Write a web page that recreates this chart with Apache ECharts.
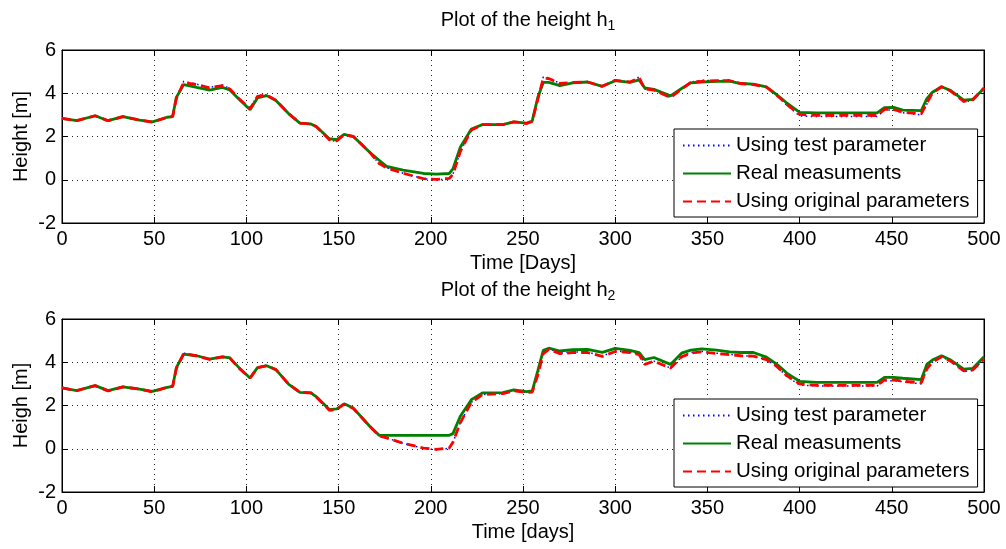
<!DOCTYPE html>
<html>
<head>
<meta charset="utf-8">
<script src="https://cdn.jsdelivr.net/npm/echarts@6/dist/echarts.min.js"></script>
<style>
html, body { margin: 0; padding: 0; background: #fff; }
#chart { width: 1006px; height: 549px; }
</style>
</head>
<body>
<div id="chart"></div>
<script>
var myChart = echarts.init(document.getElementById('chart'));

// 数据
var days = [0, 8, 18, 25, 33, 42, 49, 57, 60, 62,
	66, 73, 80, 87, 91, 96, 102, 106, 111, 116,
	123, 129, 135, 138, 145, 149, 153, 158, 167, 172,
	176, 185, 196, 203, 210, 212, 216, 222, 228, 239,
	245, 252, 255, 258, 261, 264, 270, 277, 285, 293,
	300, 308, 313, 316, 321, 330, 336, 341, 347, 355,
	362, 368, 375, 382, 387, 391, 393, 400, 409, 418,
	427, 442, 446, 451, 456, 466, 469, 472, 477, 482,
	489, 494, 500];

var testTop = [2.84, 2.73, 2.96, 2.75, 2.92, 2.76, 2.66, 2.89, 2.92, 3.78,
	4.55, 4.42, 4.27, 4.38, 4.22, 3.75, 3.30, 3.90, 3.92, 3.68,
	3.05, 2.60, 2.55, 2.45, 1.83, 1.78, 2.08, 2.00, 1.24, 0.75,
	0.55, 0.30, 0.05, 0.00, 0.03, 0.25, 1.30, 2.30, 2.55, 2.55,
	2.68, 2.60, 2.70, 3.70, 4.75, 4.72, 4.45, 4.50, 4.52, 4.32,
	4.60, 4.52, 4.75, 4.20, 4.15, 3.80, 4.20, 4.52, 4.60, 4.58,
	4.62, 4.45, 4.40, 4.28, 3.95, 3.62, 3.45, 2.95, 2.92, 2.92,
	2.92, 2.92, 3.22, 3.22, 3.10, 3.00, 3.50, 4.00, 4.30, 4.10,
	3.60, 3.68, 4.25];
var realTop = [2.84, 2.73, 2.96, 2.73, 2.92, 2.76, 2.68, 2.89, 2.92, 3.81,
	4.40, 4.27, 4.15, 4.27, 4.15, 3.72, 3.24, 3.78, 3.89, 3.66,
	3.05, 2.62, 2.58, 2.45, 1.90, 1.85, 2.10, 2.00, 1.26, 0.90,
	0.62, 0.45, 0.29, 0.26, 0.29, 0.50, 1.50, 2.35, 2.55, 2.55,
	2.68, 2.62, 2.72, 3.80, 4.50, 4.50, 4.35, 4.48, 4.52, 4.32,
	4.58, 4.50, 4.62, 4.25, 4.18, 3.88, 4.22, 4.48, 4.52, 4.55,
	4.56, 4.45, 4.42, 4.30, 3.97, 3.70, 3.55, 3.12, 3.09, 3.09,
	3.09, 3.09, 3.33, 3.35, 3.22, 3.20, 3.75, 4.05, 4.30, 4.12,
	3.68, 3.72, 4.22];
var origTop = [2.84, 2.73, 2.96, 2.73, 2.92, 2.76, 2.66, 2.89, 2.92, 3.75,
	4.50, 4.40, 4.25, 4.35, 4.20, 3.75, 3.28, 3.85, 3.92, 3.68,
	3.05, 2.62, 2.58, 2.45, 1.85, 1.80, 2.08, 2.00, 1.26, 0.75,
	0.55, 0.30, 0.05, 0.02, 0.06, 0.25, 1.30, 2.30, 2.55, 2.55,
	2.68, 2.60, 2.70, 3.70, 4.70, 4.68, 4.45, 4.50, 4.52, 4.32,
	4.60, 4.52, 4.72, 4.20, 4.15, 3.80, 4.20, 4.50, 4.55, 4.58,
	4.58, 4.45, 4.40, 4.28, 3.95, 3.65, 3.48, 3.02, 2.98, 2.97,
	2.98, 2.97, 3.25, 3.25, 3.12, 3.05, 3.55, 4.00, 4.30, 4.10,
	3.62, 3.70, 4.25];

var testBot = [2.81, 2.69, 2.92, 2.67, 2.86, 2.76, 2.63, 2.84, 2.88, 3.72,
	4.42, 4.32, 4.13, 4.27, 4.22, 3.72, 3.27, 3.75, 3.84, 3.66,
	2.98, 2.61, 2.56, 2.38, 1.78, 1.82, 2.06, 1.86, 1.03, 0.60,
	0.50, 0.25, 0.02, -0.05, 0.02, 0.28, 1.20, 2.15, 2.50, 2.55,
	2.68, 2.60, 2.62, 3.40, 4.45, 4.62, 4.42, 4.47, 4.47, 4.29,
	4.52, 4.47, 4.37, 3.92, 4.05, 3.73, 4.25, 4.45, 4.50, 4.42,
	4.37, 4.30, 4.28, 4.12, 3.85, 3.52, 3.35, 2.95, 2.90, 2.90,
	2.90, 2.90, 3.15, 3.15, 3.10, 3.00, 3.65, 4.00, 4.25, 4.05,
	3.58, 3.62, 4.15];
var realBot = [2.81, 2.69, 2.92, 2.69, 2.86, 2.76, 2.65, 2.84, 2.88, 3.75,
	4.38, 4.30, 4.15, 4.25, 4.20, 3.75, 3.27, 3.75, 3.84, 3.66,
	2.98, 2.61, 2.58, 2.40, 1.81, 1.84, 2.08, 1.88, 1.03, 0.62,
	0.62, 0.62, 0.62, 0.62, 0.62, 0.70, 1.50, 2.27, 2.58, 2.60,
	2.72, 2.64, 2.68, 3.60, 4.55, 4.65, 4.52, 4.58, 4.60, 4.46,
	4.64, 4.55, 4.45, 4.12, 4.22, 3.90, 4.42, 4.56, 4.62, 4.56,
	4.48, 4.45, 4.45, 4.24, 3.95, 3.66, 3.50, 3.12, 3.07, 3.07,
	3.07, 3.07, 3.30, 3.30, 3.26, 3.20, 3.90, 4.10, 4.30, 4.10,
	3.68, 3.72, 4.25];
var origBot = [2.81, 2.69, 2.92, 2.67, 2.86, 2.76, 2.63, 2.84, 2.88, 3.70,
	4.40, 4.30, 4.13, 4.25, 4.20, 3.72, 3.27, 3.75, 3.84, 3.66,
	2.98, 2.61, 2.58, 2.38, 1.78, 1.82, 2.06, 1.86, 1.03, 0.60,
	0.50, 0.26, 0.03, -0.03, 0.03, 0.30, 1.20, 2.15, 2.50, 2.55,
	2.68, 2.60, 2.62, 3.40, 4.40, 4.60, 4.40, 4.45, 4.45, 4.27,
	4.50, 4.45, 4.35, 3.90, 4.05, 3.73, 4.25, 4.42, 4.48, 4.40,
	4.35, 4.30, 4.28, 4.12, 3.85, 3.55, 3.38, 3.00, 2.93, 2.93,
	2.93, 2.93, 3.18, 3.18, 3.12, 3.05, 3.70, 4.00, 4.25, 4.05,
	3.60, 3.65, 4.15];

var names = ['Using test parameter', 'Real measuments', 'Using original parameters'];
var xTicks = { min: 0, max: 500, interval: 50 };
var yTicks = { min: -2, max: 6, interval: 2 };

var font = 'Liberation Sans, Arial, sans-serif';
var fs = 20;

function pairs(vals) {
	return days.map(function (d, i) { return [d, vals[i]]; });
}

function xAxes(grid, name) {
	return [{
		gridIndex: grid, type: 'value', position: 'bottom',
		min: xTicks.min, max: xTicks.max, interval: xTicks.interval,
		name: name, nameLocation: 'middle', nameGap: 30,
		nameTextStyle: { color: '#000', fontSize: fs, fontFamily: font },
		axisLine: { onZero: false, lineStyle: { color: '#000', width: 1 } },
		axisTick: { inside: true, length: 6, lineStyle: { color: '#000' } },
		axisLabel: { color: '#000', fontSize: fs, fontFamily: font, margin: 6 },
		splitLine: { show: true, lineStyle: { color: '#222', width: 1, type: [1, 4] } }
	}, {
		gridIndex: grid, type: 'value', position: 'top',
		min: xTicks.min, max: xTicks.max, interval: xTicks.interval,
		axisLine: { onZero: false, lineStyle: { color: '#000', width: 1 } },
		axisTick: { inside: true, length: 6, lineStyle: { color: '#000' } },
		axisLabel: { show: false },
		splitLine: { show: false }
	}];
}

function yAxes(grid, name) {
	return [{
		gridIndex: grid, type: 'value', position: 'left',
		min: yTicks.min, max: yTicks.max, interval: yTicks.interval,
		name: name, nameLocation: 'middle', nameGap: 31, nameMoveOverlap: false,
		nameTextStyle: { color: '#000', fontSize: fs, fontFamily: font },
		axisLine: { show: true, onZero: false, lineStyle: { color: '#000', width: 1 } },
		axisTick: { show: true, inside: true, length: 6, lineStyle: { color: '#000' } },
		axisLabel: { color: '#000', fontSize: fs, fontFamily: font, margin: 6 },
		splitLine: { show: true, lineStyle: { color: '#222', width: 1, type: [1, 4] } }
	}, {
		gridIndex: grid, type: 'value', position: 'right',
		min: yTicks.min, max: yTicks.max, interval: yTicks.interval,
		axisLine: { show: true, onZero: false, lineStyle: { color: '#000', width: 1 } },
		axisTick: { show: true, inside: true, length: 6, lineStyle: { color: '#000' } },
		axisLabel: { show: false },
		splitLine: { show: false }
	}];
}

function lines(xi, yi, test, real, orig) {
	return [{
		name: names[0], type: 'line', xAxisIndex: xi, yAxisIndex: yi,
		symbol: 'none', data: pairs(test),
		lineStyle: { color: '#0000ff', width: 1.5, type: [1.5, 3.5] },
		itemStyle: { color: '#0000ff' }
	}, {
		name: names[1], type: 'line', xAxisIndex: xi, yAxisIndex: yi,
		symbol: 'none', data: pairs(real),
		lineStyle: { color: '#008000', width: 2.8 },
		itemStyle: { color: '#008000' }
	}, {
		name: names[2], type: 'line', xAxisIndex: xi, yAxisIndex: yi,
		symbol: 'none', data: pairs(orig),
		lineStyle: { color: '#ff0000', width: 2.8, type: [9, 5] },
		itemStyle: { color: '#ff0000' }
	}];
}

function legendAt(top) {
	return {
		orient: 'vertical', left: 674, top: top,
		padding: [6, 8, 5, 8],
		itemWidth: 48, itemHeight: 12, itemGap: 7,
		backgroundColor: '#fff', borderColor: '#000', borderWidth: 1, borderRadius: 0,
		itemStyle: { opacity: 0 },
		textStyle: { color: '#000', fontSize: 20.5, fontFamily: font },
		data: names
	};
}

function titleAt(top, sub) {
	return {
		text: '{a|Plot of the height h}{s|' + sub + '}',
		left: 523, top: top, textAlign: 'center',
		textStyle: {
			rich: {
				a: { fontSize: fs, fontFamily: font, color: '#000', fontWeight: 'normal' },
				s: { fontSize: 14, fontFamily: font, color: '#000', fontWeight: 'normal', padding: [12, 0, 0, 0] }
			}
		}
	};
}

var option = {
	backgroundColor: '#fff',
	animation: false,
	title: [titleAt(2, '1'), titleAt(272, '2')],
	legend: [legendAt(129), legendAt(399)],
	grid: [
		{ left: 62, top: 50, width: 922, height: 173, show: true, borderColor: '#000', borderWidth: 1 },
		{ left: 62, top: 319, width: 922, height: 173, show: true, borderColor: '#000', borderWidth: 1 }
	],
	xAxis: xAxes(0, 'Time [Days]').concat(xAxes(1, 'Time [days]')),
	yAxis: yAxes(0, 'Height [m]').concat(yAxes(1, 'Heigh [m]')),
	series: lines(0, 0, testTop, realTop, origTop).concat(lines(2, 2, testBot, realBot, origBot))
};

myChart.setOption(option);
</script>
</body>
</html>
